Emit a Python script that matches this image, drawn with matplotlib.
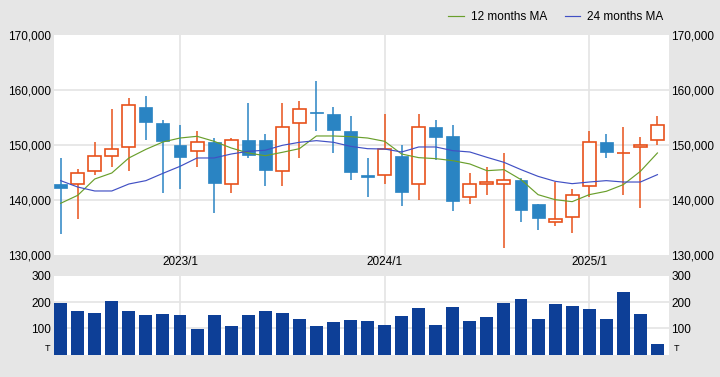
import numpy as np
import pandas as pd
import matplotlib
matplotlib.use('Agg')
import matplotlib.pyplot as plt

plt.rcParams['font.family'] = ['Liberation Sans', 'DejaVu Sans']

# monthly candles, 2022/6 .. 2025/5
months = pd.period_range('2022-06', '2025-05', freq='M')

opens = [142970, 142910, 145270, 148000, 149700, 156910, 154000, 150000, 148910, 150550,
         142910, 150910, 150910, 145210, 154000, 156060, 155700, 152610, 144610, 144610,
         148060, 142970, 153330, 151700, 140550, 142910, 142910, 143700, 139330, 136000,
         136910, 142550, 150550, 148500, 149640, 150910]
closes = [142120, 144910, 148000, 149270, 157270, 154120, 150670, 147760, 150550, 143030,
          150910, 148120, 145390, 153270, 156550, 155760, 152670, 145030, 144180, 149270,
          141400, 153270, 151390, 139760, 142970, 143330, 143640, 138120, 136670, 136610,
          140910, 150550, 148670, 148560, 150000, 153640]
highs = [147700, 145700, 150610, 156610, 158610, 158970, 154610, 153700, 152550, 151330,
         151330, 157640, 152060, 157700, 158060, 161700, 156970, 155330, 147700, 155640,
         150000, 155640, 154610, 153700, 144970, 146060, 148610, 144000, 139330, 143270,
         142060, 152610, 152060, 153330, 151390, 155330]
lows = [133880, 136490, 144490, 145940, 145210, 150850, 141270, 141940, 146000, 137580,
        141210, 147580, 142490, 142490, 147640, 152490, 148490, 143580, 140490, 142910,
        138850, 139940, 147210, 137940, 139210, 140850, 131210, 135940, 134550, 135210,
        133940, 140490, 147580, 140850, 138490, 149940]

ma12 = [139400, 140850, 143820, 144910, 147640, 149210, 150550, 151270, 151580, 150670,
        149460, 148550, 148050, 148670, 149330, 151640, 151640, 151520, 151270, 150670,
        148360, 147700, 147520, 147150, 146550, 145330, 145520, 143700, 140970, 140060,
        139700, 140970, 141580, 142790, 145210, 148550]
ma24 = [143520, 142360, 141640, 141640, 142910, 143520, 144850, 146120, 147640, 147640,
        148360, 148850, 149050, 149940, 150490, 150790, 150490, 149760, 149330, 149270,
        148730, 149640, 149640, 148970, 148730, 147760, 146850, 145520, 144300, 143400,
        142970, 143270, 143520, 143270, 143270, 144610]

volume = [196, 166, 158, 204, 166, 151, 154, 151, 97, 151, 109, 151, 165, 158, 135, 109,
          124, 132, 128, 113, 147, 177, 113, 181, 128, 143, 196, 211, 135, 192, 185, 173,
          135, 238, 154, 41]

price_ticks = [130000, 140000, 150000, 160000, 170000]
vol_ticks = [100, 200, 300]

BG = '#e6e6e6'
UP = '#e8521b'
DOWN = '#2a84c3'
MA12_C = '#6a9f2c'
MA24_C = '#4150c4'
VOL_C = '#0d3f97'
GRID = '#e4e4e4'

x = np.arange(len(months))
year_pos = [i for i, m in enumerate(months) if m.month == 1]
year_lab = [f'{m.year}/1' for m in months if m.month == 1]

fig = plt.figure(figsize=(7.2, 3.77), dpi=100, facecolor=BG)
ax = fig.add_axes([54 / 720, 1 - 255 / 377, 614.5 / 720, 220 / 377])
axv = fig.add_axes([54 / 720, 1 - 354.7 / 377, 614.5 / 720, 79 / 377])

xlim = (-0.39, 35.65)
w = 0.76

for a in (ax, axv):
    a.set_facecolor('white')
    for s in a.spines.values():
        s.set_visible(False)
    a.set_xlim(*xlim)
    a.set_axisbelow(True)
    for p in year_pos:
        a.axvline(p, color=GRID, lw=1.2, zorder=0)

# price panel
ax.set_ylim(130000, 170000)
ax.set_yticks(price_ticks)
ax.set_yticklabels([f'{v:,}' for v in price_ticks])
for v in price_ticks[1:-1]:
    ax.axhline(v, color=GRID, lw=1.2, zorder=0)
ax.tick_params(axis='y', length=0, labelsize=8.5, labelleft=True, labelright=True, pad=2)
ax.set_xticks(year_pos)
ax.set_xticklabels(year_lab)
ax.tick_params(axis='x', length=0, labelsize=8.5, pad=1)

for i in x:
    o, c, h, l = opens[i], closes[i], highs[i], lows[i]
    col = UP if c >= o else DOWN
    ax.vlines(i, l, h, color=col, lw=1.1, zorder=2)
    bot = min(o, c)
    hgt = max(abs(c - o), 60)
    if c >= o:
        ax.bar(i, hgt, bottom=bot, width=w, facecolor='white', edgecolor=col,
               linewidth=1.2, zorder=3)
    else:
        ax.bar(i, hgt, bottom=bot, width=w, facecolor=col, edgecolor=col,
               linewidth=0.5, zorder=3)

l12, = ax.plot(x, ma12, color=MA12_C, lw=0.85, zorder=4, label='12 months MA')
l24, = ax.plot(x, ma24, color=MA24_C, lw=0.85, zorder=4, label='24 months MA')

fig.legend(handles=[l12, l24], loc='upper right', bbox_to_anchor=(668 / 720, 1 - 6 / 377),
           ncol=2, frameon=False, fontsize=8.5, handlelength=1.3, handletextpad=0.6,
           columnspacing=1.5, borderaxespad=0)

# volume panel
axv.bar(x, volume, width=w, color=VOL_C, zorder=2)
axv.set_ylim(0, 300)
axv.set_yticks(vol_ticks)
axv.set_yticklabels([str(v) for v in vol_ticks])
for v in vol_ticks[:-1]:
    axv.axhline(v, color=GRID, lw=1.2, zorder=0)
axv.tick_params(axis='y', length=0, labelsize=8.5, labelleft=True, labelright=True, pad=2)
axv.set_xticks([])
axv.text(-0.006, 0.02, 'T', transform=axv.transAxes, ha='right', va='bottom', fontsize=6.5)
axv.text(1.008, 0.02, 'T', transform=axv.transAxes, ha='left', va='bottom', fontsize=6.5)

fig.savefig('out.png', dpi=100, facecolor=BG)
